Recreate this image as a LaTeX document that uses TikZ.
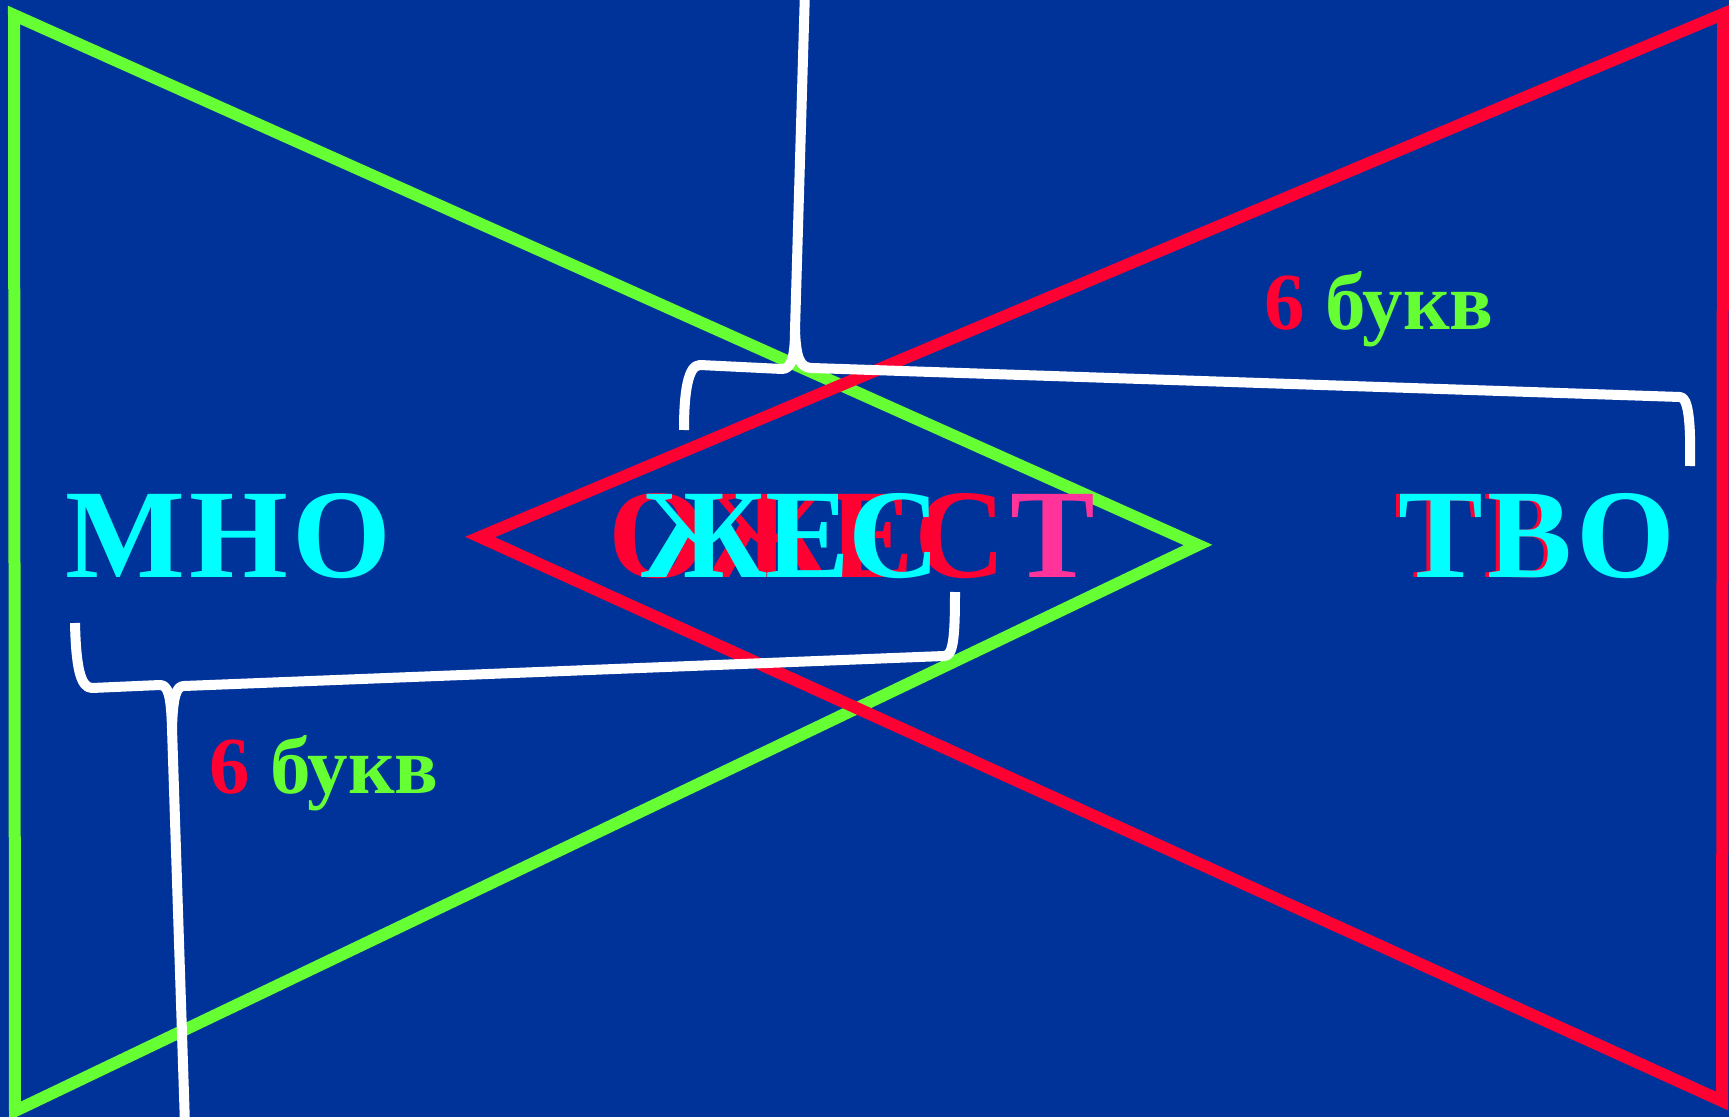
\documentclass[tikz,border=0pt]{standalone}
\usepackage{fontspec}
\setmainfont{Liberation Serif}
\newfontfamily\bigserif[LetterSpace=3.5]{Liberation Serif}
\definecolor{bgblue}{RGB}{0,51,153}
\definecolor{lgreen}{RGB}{102,255,51}
\definecolor{lred}{RGB}{255,0,51}
\definecolor{lcyan}{RGB}{0,255,255}
\definecolor{lpink}{RGB}{255,51,153}
\begin{document}
\begin{tikzpicture}[x=0.5pt,y=-0.5pt,
  big/.style={font=\bigserif\fontsize{63.5}{70}\selectfont\bfseries, inner sep=0pt, anchor=base west},
  mid/.style={font=\fontsize{63.5}{70}\selectfont\bfseries, inner sep=0pt, anchor=base west},
  lab/.style={font=\fontsize{40.5}{46}\selectfont\bfseries, inner sep=0pt, anchor=base west},
  tri/.style={line width=6pt, line join=miter},
  brace/.style={draw=white, line width=5pt, line join=round}]
\useasboundingbox (0,0) rectangle (1729,1117);
\fill[bgblue] (0,0) rectangle (1729,1117);
\begin{scope}
\clip (0,0) rectangle (1729,1117);
% triangles
\draw[tri, lgreen] (14,15) -- (1198,545) -- (15,1111) -- cycle;
\draw[tri, lred] (1723,14) -- (480,537) -- (1722,1101) -- cycle;
% upper brace
\coordinate (ucusp) at (795,330);
\coordinate (utop) at (805,-10);
\draw[brace] (684,430) .. controls (684,392) and (688,365) .. (700,365) -- (782,369) .. controls (791,369) and (795,358) .. (ucusp);
\draw[brace] (ucusp) .. controls (796,358) and (800,368) .. (812,368) -- (1680,397) .. controls (1688,397) and (1691,420) .. (1690,466);
\draw[brace] (ucusp) -- (utop);
% lower brace
\coordinate (lcusp) at (172,728);
\coordinate (lbot) at (185,1125);
\draw[brace] (75,623) .. controls (76,665) and (80,688) .. (92,688) -- (160,685) .. controls (168,685) and (171,695) .. (lcusp);
\draw[brace] (lcusp) .. controls (173,697) and (176,686) .. (184,686) -- (944,656) .. controls (953,656) and (955,640) .. (955,592);
\draw[brace] (lcusp) -- (lbot);
\end{scope}
% texts
\node[big, text=lcyan] (mno) at (65,577) {МНО};
\node[mid, text=lred] (redmid) at (608,577) {ОЖЕС};
\node[mid, text=lcyan] (czh) at (641,577) {Ж};
\node[mid, text=lcyan] (ce) at (765,577) {Е};
\node[mid, text=lcyan] (cs) at (848,577) {С};
\node[mid, text=lpink] (te) at (1010,577) {Т};
\node[big, text=lred] (redtv) at (1394,577) {ТВ};
\node[big, text=lcyan] (tvo) at (1398,577) {ТВО};
\node[lab, text=lgreen] (lab1) at (1264,330) {\textcolor{lred}{6} букв};
\node[lab, text=lgreen] (lab2) at (209,793) {\textcolor{lred}{6} букв};
\end{tikzpicture}
\end{document}
